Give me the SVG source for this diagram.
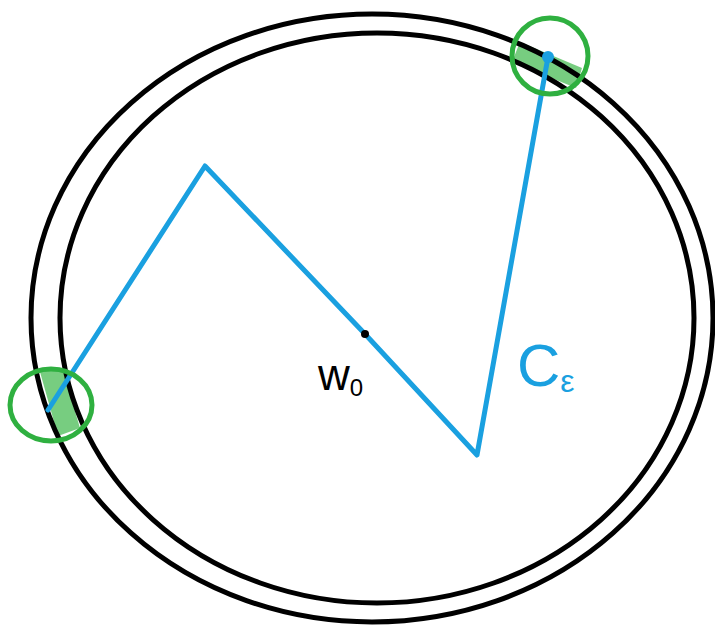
<svg xmlns="http://www.w3.org/2000/svg" width="715" height="628" viewBox="0 0 715 628">
<style>
.ring{fill:none;stroke:#000;stroke-width:5}
.band{fill:#5fc46a;opacity:0.85}
.halo{fill:none;stroke:#2fb040;stroke-width:5}
.path{fill:none;stroke:#1aa0e0;stroke-width:5;stroke-linejoin:round;stroke-linecap:round}
.lbl{font-family:"Liberation Sans",sans-serif}
</style>
<rect width="715" height="628" fill="#fff"/>
<g id="bands">
<polygon class="band" points="520,42 582,68 576,88 512,62"/>
<polygon class="band" points="40,372 62,368 80,428 58,436"/>
</g>
<g id="outer-ellipse"><ellipse class="ring" cx="372" cy="318" rx="341" ry="304"/></g>
<g id="inner-ellipse"><ellipse class="ring" cx="377" cy="318" rx="317" ry="285"/></g>
<g id="connectors">
<polyline class="path" points="48,410 205,166 365,334 477,455 548,57"/>
</g>
<g id="endpoint"><circle cx="548" cy="57" r="6" fill="#1aa0e0"/></g>
<g id="w0-point"><circle cx="365" cy="334" r="4" fill="#000"/></g>
<g id="halo-top"><circle class="halo" cx="550" cy="56" r="38"/></g>
<g id="halo-left"><ellipse class="halo" cx="51" cy="405" rx="41" ry="36"/></g>
<g id="label-w0"><text class="lbl" x="318" y="390" font-size="44" fill="#000">w<tspan font-size="24" dy="6">0</tspan></text></g>
<g id="label-ce"><text class="lbl" x="517" y="386" font-size="60" fill="#1aa0e0">C<tspan font-size="32" dy="6">ε</tspan></text></g>
</svg>
